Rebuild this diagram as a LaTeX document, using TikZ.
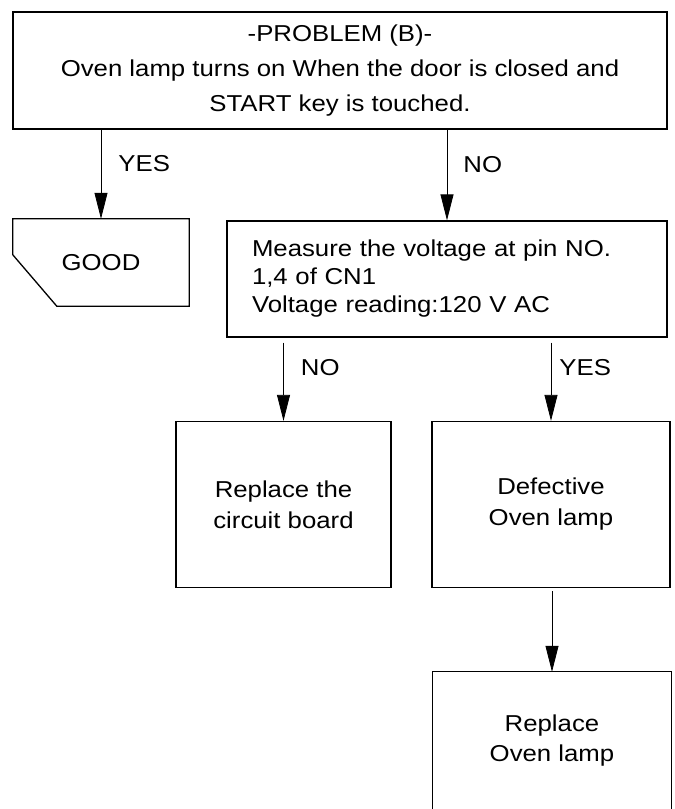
\documentclass[tikz,border=0pt]{standalone}
\usepackage{fontspec}
\setmainfont{Liberation Sans}[FakeStretch=1.12]
\usetikzlibrary{arrows.meta,calc}

\begin{document}
\begin{tikzpicture}[x=1pt,y=-1pt,
  box/.style={draw,line width=1.3pt,inner sep=0pt,align=center,
    font=\fontsize{23}{31}\selectfont},
  arr/.style={line width=0.8pt,-{Triangle[length=26pt,width=13pt]}},
  lbl/.style={inner sep=0pt,anchor=west,font=\fontsize{23}{27}\selectfont}]

\useasboundingbox (0,0) rectangle (675,809);

% Problem box
\node[box,minimum width=654pt,minimum height=117pt,
  font=\fontsize{23}{35}\selectfont] (prob) at (340,70.5)
  {-PROBLEM (B)-\\Oven lamp turns on When the door is closed and\\START key is touched.};

% Good (card shape)
\node[inner sep=0pt,minimum width=176pt,minimum height=87pt,
  font=\fontsize{23}{27}\selectfont] (good) at (101,262.5) {GOOD};
\draw[line width=1.3pt] (good.north west) -- (good.north east) -- (good.south east)
  -- ($(good.south west)+(44,0)$) -- ($(good.north west)+(0,36)$) -- cycle;

% Measure box
\node[box,align=left,minimum width=440pt,minimum height=116pt,text width=390pt,
  font=\fontsize{23}{28}\selectfont] (meas) at (447,279)
  {Measure the voltage at pin NO.\\1,4 of CN1\\Voltage reading:120 V AC};

% Result boxes
\node[box,minimum width=215pt,minimum height=166pt] (board) at (283.5,504.5)
  {Replace the\\circuit board};
\node[box,minimum width=238pt,minimum height=166pt] (defect) at (551,504.5)
  {Defective\\Oven lamp};

% Last box, open at the bottom
\node[inner sep=0pt,minimum width=238pt,minimum height=137pt,align=center,
  font=\fontsize{23}{30}\selectfont] (lamp) at (552,740.5)
  {Replace\\Oven lamp};
\draw[line width=1.3pt] (lamp.south west) -- (lamp.north west)
  -- (lamp.north east) -- (lamp.south east);

% Arrows
\draw[arr] (prob.south -| good.north) -- node[lbl,pos=0.38,xshift=17pt] {YES} (good.north);
\draw[arr] (prob.south -| meas.north) -- node[lbl,pos=0.38,xshift=16pt] {NO} (meas.north);
\draw[arr,shorten <=5pt] (meas.south -| board.north) -- node[lbl,pos=0.36,xshift=17pt] {NO} (board.north);
\draw[arr,shorten <=5pt] (meas.south -| defect.north) -- node[lbl,pos=0.36,xshift=8pt] {YES} (defect.north);
\draw[arr,shorten <=3pt] (defect.south -| lamp.north) -- (lamp.north);

\end{tikzpicture}
\end{document}
